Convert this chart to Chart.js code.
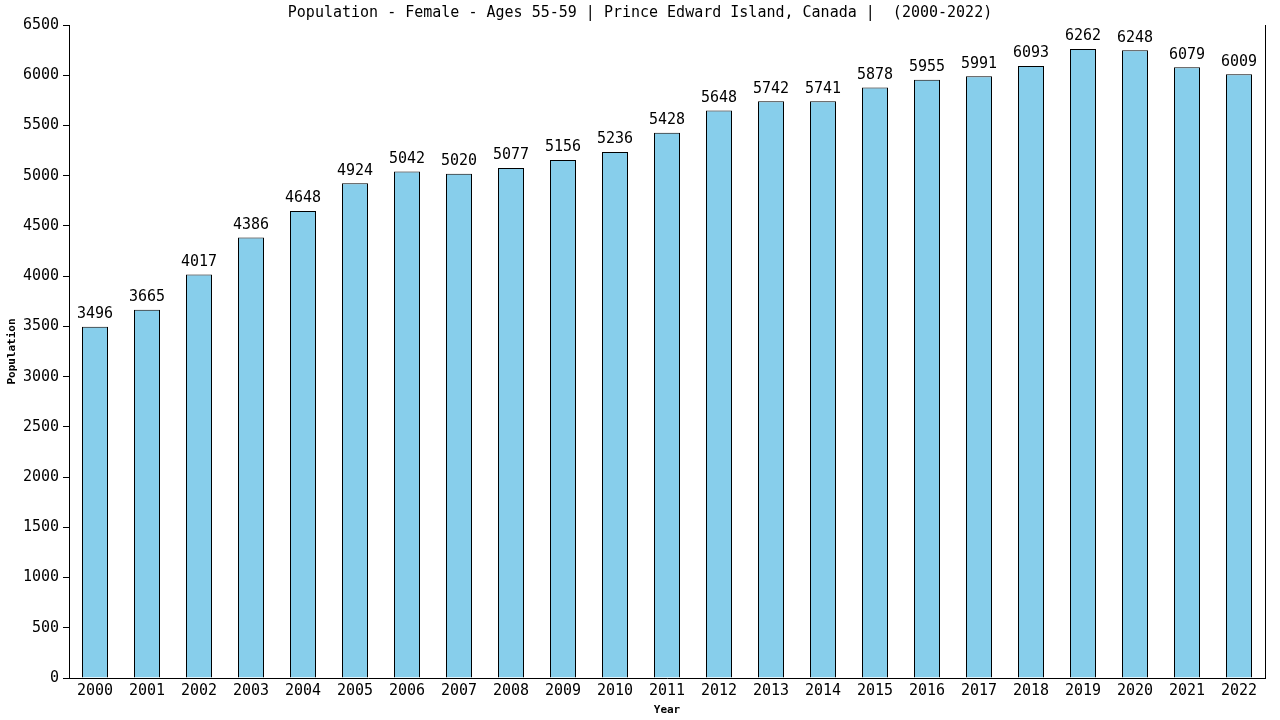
<!DOCTYPE html>
<html>
<head>
<meta charset="utf-8">
<script src="https://cdn.jsdelivr.net/npm/chart.js@4/dist/chart.umd.min.js"></script>
<style>
  html, body { margin: 0; padding: 0; background: #fff; }
  #wrap { width: 1280px; height: 720px; }
</style>
</head>
<body>
<div id="wrap"><canvas id="chart" width="1280" height="720"></canvas></div>
<script>
const years = ["2000", "2001", "2002", "2003", "2004", "2005", "2006", "2007",
  "2008", "2009", "2010", "2011", "2012", "2013", "2014", "2015", "2016",
  "2017", "2018", "2019", "2020", "2021", "2022"];
const population = [3496, 3665, 4017, 4386, 4648, 4924, 5042, 5020, 5077, 5156,
  5236, 5428, 5648, 5742, 5741, 5878, 5955, 5991, 6093, 6262, 6248, 6079, 6009];
const yMin = 0;
const yMax = 6500;
const yStep = 500;

const mono = "'DejaVu Sans Mono', 'Liberation Mono', monospace";

// value above each bar
const valueLabels = {
  id: "valueLabels",
  afterDatasetsDraw(chart) {
    const ctx = chart.ctx;
    const meta = chart.getDatasetMeta(0);
    ctx.save();
    ctx.font = "15px " + mono;
    ctx.fillStyle = "#000";
    ctx.textAlign = "center";
    ctx.textBaseline = "bottom";
    meta.data.forEach((bar, i) => {
      ctx.fillText(String(population[i]), bar.x, bar.y - 5);
    });
    ctx.restore();
  },
};

new Chart(document.getElementById("chart"), {
  type: "bar",
  data: {
    labels: years,
    datasets: [
      {
        label: "Population",
        data: population,
        backgroundColor: "#87CEEB",
        borderColor: "#000",
        borderWidth: 1,
        barPercentage: 0.5,
        categoryPercentage: 1,
      },
    ],
  },
  options: {
    responsive: false,
    animation: false,
    layout: { padding: 0 },
    plugins: {
      legend: { display: false },
      tooltip: { enabled: false },
      title: {
        display: true,
        text: "Population - Female - Ages 55-59 | Prince Edward Island, Canada |  (2000-2022)",
        color: "#000",
        font: { family: mono, size: 15, weight: "normal" },
        padding: { top: 4, bottom: 3 },
      },
    },
    scales: {
      x: {
        grid: { display: false, drawTicks: false },
        border: { display: true, color: "#000", width: 1 },
        ticks: { color: "#000", font: { family: mono, size: 15 }, padding: 4, maxRotation: 0 },
        title: {
          display: true,
          text: "Year",
          color: "#000",
          font: { family: mono, size: 11, weight: "bold" },
          padding: { top: 0, bottom: 3 },
        },
        afterFit(scale) { scale.height = 42; },
      },
      y: {
        min: yMin,
        max: yMax,
        ticks: {
          stepSize: yStep,
          color: "#000",
          font: { family: mono, size: 15 },
          padding: 4,
          callback: (v) => String(v),
        },
        grid: { drawOnChartArea: false, drawTicks: true, tickLength: 6, color: "#000" },
        border: { display: true, color: "#000", width: 1 },
        title: {
          display: true,
          text: "Population",
          color: "#000",
          font: { family: mono, size: 11, weight: "bold" },
          padding: { top: 6, bottom: 0 },
        },
        afterFit(scale) { scale.width = 69; },
      },
      // right frame line
      y2: {
        position: "right",
        min: yMin,
        max: yMax,
        ticks: { display: false },
        grid: { display: false, drawTicks: false },
        border: { display: true, color: "#000", width: 1 },
        afterFit(scale) { scale.width = 15; },
      },
    },
  },
  plugins: [valueLabels],
});
</script>
</body>
</html>
